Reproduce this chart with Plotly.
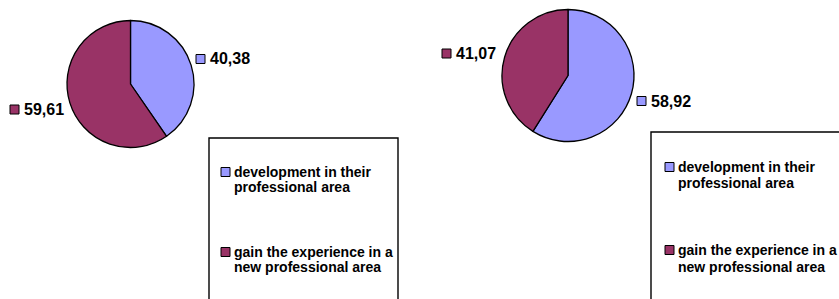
import plotly.graph_objects as go

W, H = 839, 299

categories = ["development in their professional area",
              "gain the experience in a new professional area"]
legend_lines = [["development in their", "professional area"],
                ["gain the experience in a", "new professional area"]]
values_left = [40.38, 59.61]
values_right = [58.92, 41.07]
value_labels_left = ["40,38", "59,61"]
value_labels_right = ["58,92", "41,07"]
colors = ["#9999FF", "#993366"]

FONT = "Liberation Sans, Arial, sans-serif"


def fx(x):
    return x / W


def fy(y):
    return 1 - y / H


fig = go.Figure()


def add_pie(vals, cx, cy, r):
    fig.add_trace(go.Pie(
        labels=categories, values=vals, sort=False, direction="clockwise",
        rotation=0, textinfo="none", hoverinfo="label+value",
        marker=dict(colors=colors, line=dict(color="black", width=1.3)),
        domain=dict(x=[fx(cx - r), fx(cx + r)], y=[fy(cy + r), fy(cy - r)]),
        showlegend=False,
    ))


add_pie(values_left, 130.5, 84, 63.5)
add_pie(values_right, 568, 75.5, 66)

shapes = []
annotations = []


def square(x0, y0, size, color):
    shapes.append(dict(type="rect", xref="paper", yref="paper",
                       x0=fx(x0), x1=fx(x0 + size), y0=fy(y0 + size), y1=fy(y0),
                       fillcolor=color, line=dict(color="black", width=1)))


def text(x, y, s, size):
    annotations.append(dict(xref="paper", yref="paper", x=fx(x), y=fy(y),
                            xanchor="left", yanchor="middle", showarrow=False,
                            text="<b>" + s + "</b>",
                            font=dict(family=FONT, size=size, color="black")))


# value labels
value_pos = [
    (value_labels_left[0], colors[0], 196, 59),
    (value_labels_left[1], colors[1], 10, 109.5),
    (value_labels_right[0], colors[0], 637, 101),
    (value_labels_right[1], colors[1], 442, 53.5),
]
for lab, col, x, y in value_pos:
    square(x, y - 4.5, 9, col)
    text(x + 12, y, lab, 16)

# legend boxes
for bx0, by0, bx1 in [(209, 138, 398), (651, 132, 860)]:
    shapes.append(dict(type="rect", xref="paper", yref="paper",
                       x0=fx(bx0), x1=fx(bx1), y0=fy(320), y1=fy(by0),
                       fillcolor="rgba(0,0,0,0)", line=dict(color="black", width=1.4)))

legend_items = [
    (221, [(172, 187), (252, 267)]),
    (665, [(167, 183), (250, 267)]),
]
for mx, rows in legend_items:
    for i, (y1, y2) in enumerate(rows):
        square(mx, y1 - 4.5, 9, colors[i])
        text(mx + 11, y1, legend_lines[i][0], 14)
        text(mx + 11, y2, legend_lines[i][1], 14)

fig.update_layout(
    width=W, height=H, margin=dict(l=0, r=0, t=0, b=0),
    paper_bgcolor="white", plot_bgcolor="white",
    shapes=shapes, annotations=annotations, showlegend=False,
)

fig.write_html("out.html", config={"displayModeBar": False},
               post_script="document.body.style.margin='0';document.body.style.overflow='hidden';")
